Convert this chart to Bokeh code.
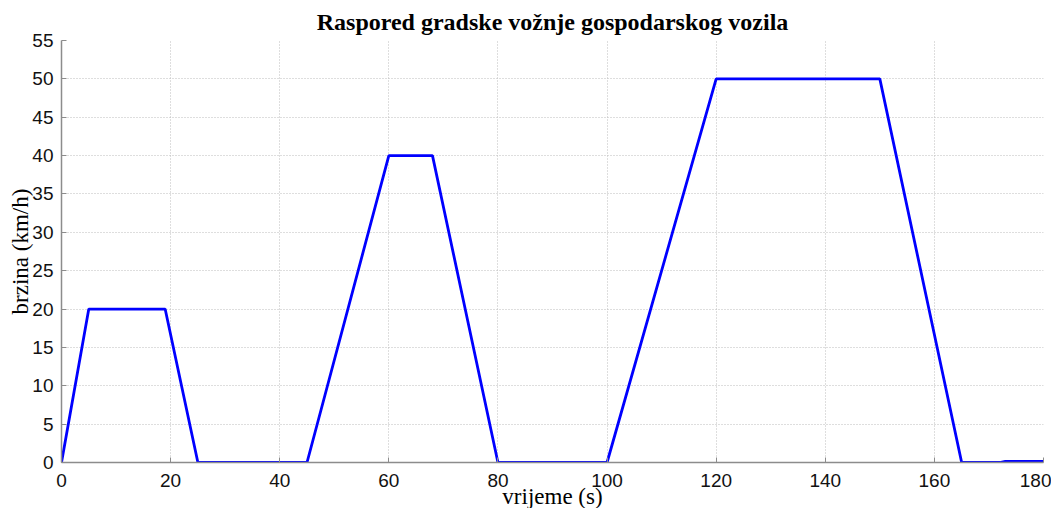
from bokeh.plotting import figure
from bokeh.models import Range1d, SingleIntervalTicker
from bokeh.embed import file_html
from bokeh.resources import INLINE

# data
time_s = [0, 5, 19, 25, 45, 60, 68, 80, 100, 120, 150, 165, 172, 173, 180]
speed_kmh = [0, 20, 20, 0, 0, 40, 40, 0, 0, 50, 50, 0, 0, 0.15, 0.15]
title_text = "Raspored gradske vožnje gospodarskog vozila"
x_label = "vrijeme (s)"
y_label = "brzina (km/h)"

p = figure(frame_width=982, frame_height=422, output_backend="svg", toolbar_location=None,
           x_range=Range1d(0, 180), y_range=Range1d(0, 55),
           min_border_left=0, min_border_right=8, min_border_top=0, min_border_bottom=0)
p.margin = (0, 0, 0, 5)

p.line(time_s, speed_kmh, line_color="#0000ff", line_width=2.8)

p.title.text = title_text
p.title.align = "center"
p.title.text_font = "Liberation Serif"
p.title.text_font_size = "24px"
p.title.text_font_style = "bold"
p.title.text_color = "#000000"
p.title.standoff = 12

p.outline_line_color = None
p.background_fill_color = "white"
p.border_fill_color = "white"

for ax, lab, iv in ((p.xaxis[0], x_label, 20), (p.yaxis[0], y_label, 5)):
    ax.ticker = SingleIntervalTicker(interval=iv)
    ax.axis_label = lab
    ax.axis_label_text_font = "Liberation Serif"
    ax.axis_label_text_font_size = "23px"
    ax.axis_label_text_font_style = "normal"
    ax.axis_label_text_color = "#000000"
    ax.major_label_text_font = "Liberation Sans"
    ax.major_label_text_font_size = "19px"
    ax.major_label_text_color = "#111111"
    ax.axis_line_color = "#8c8c8c"
    ax.axis_line_width = 1.5
    ax.major_tick_line_color = "#8c8c8c"
    ax.major_tick_in = 5
    ax.major_tick_out = 0
    ax.minor_tick_line_color = None

p.xaxis[0].major_label_standoff = 7
p.xaxis[0].axis_label_standoff = -6
p.yaxis[0].major_label_standoff = 4
p.yaxis[0].axis_label_standoff = -4

p.xgrid.grid_line_color = "#bdbdbd"
p.ygrid.grid_line_color = "#bdbdbd"
p.xgrid.grid_line_dash = "1 2"
p.ygrid.grid_line_dash = "1 2"
p.xgrid.grid_line_width = 1
p.ygrid.grid_line_width = 1

open("out.html", "w").write(file_html(p, INLINE))
